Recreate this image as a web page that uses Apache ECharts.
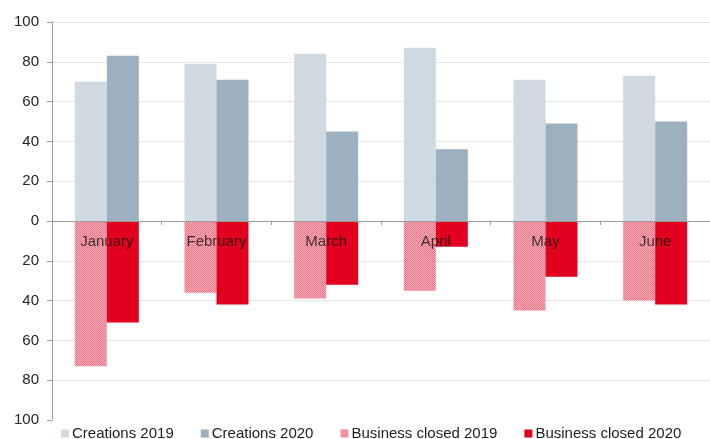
<!DOCTYPE html>
<html>
<head>
<meta charset="utf-8">
<script src="https://cdn.jsdelivr.net/npm/echarts@6/dist/echarts.min.js"></script>
<style>html,body{margin:0;padding:0;background:#fff}#c{width:710px;height:439px}</style>
</head>
<body>
<div id="c"></div>
<script>
const categories = ['January', 'February', 'March', 'April', 'May', 'June'];
const creations2019 = [70, 79, 84, 87, 71, 73];
const creations2020 = [83, 71, 45, 36, 49, 50];
const closed2019 = [73, 36, 39, 35, 45, 40];
const closed2020 = [51, 42, 32, 13, 28, 42];
const yTicks = [-100, -80, -60, -40, -20, 0, 20, 40, 60, 80, 100];

function checker(c1, c2) {
  const cv = document.createElement('canvas');
  cv.width = 2; cv.height = 2;
  const ctx = cv.getContext('2d');
  ctx.fillStyle = c1; ctx.fillRect(0, 0, 2, 2);
  ctx.fillStyle = c2; ctx.fillRect(0, 0, 1, 1); ctx.fillRect(1, 1, 1, 1);
  return { image: cv, repeat: 'repeat' };
}
const pat2019c = checker('#dbe3e9', '#c4d1db');
const pat2019b = checker('#f7b3bd', '#ee6f80');

const chart = echarts.init(document.getElementById('c'), null, { renderer: 'canvas' });
const font = 'Liberation Sans, Arial, Helvetica, sans-serif';
chart.setOption({
  animation: false,
  textStyle: { fontFamily: font },
  grid: { left: 52, right: 0, top: 22, bottom: 19, containLabel: false, outerBoundsMode: 'none' },
  legend: {
    top: 421, left: 56,
    itemWidth: 8, itemHeight: 8, itemGap: 27,
    icon: 'rect',
    textStyle: { fontSize: 15, color: '#222', fontFamily: font, padding: [0, 0, 0, -2] },
    data: ['Creations 2019', 'Creations 2020', 'Business closed 2019', 'Business closed 2020']
  },
  xAxis: {
    type: 'category',
    data: categories,
    z: 10,
    axisLine: { onZero: true, lineStyle: { color: '#9a9a9a', width: 1 } },
    axisTick: { show: true, length: 4, lineStyle: { color: '#9a9a9a' } },
    axisLabel: { show: false },
    splitLine: { show: false }
  },
  yAxis: {
    type: 'value',
    min: yTicks[0], max: yTicks[yTicks.length - 1], interval: 20,
    axisLine: { show: true, lineStyle: { color: '#9a9a9a' } },
    axisTick: { show: true, length: 5, lineStyle: { color: '#9a9a9a' } },
    axisLabel: { fontSize: 15, color: '#222', margin: 13, fontFamily: font, formatter: v => String(Math.abs(v)) },
    splitLine: { show: true, showMinLine: false, lineStyle: { color: '#e6e6e6', width: 1.2 } }
  },
  series: [
    { name: 'Creations 2019', type: 'bar', stack: 'y2019', data: creations2019, barWidth: 32, barGap: '0%', itemStyle: { color: pat2019c } },
    { name: 'Creations 2020', type: 'bar', stack: 'y2020', data: creations2020, barWidth: 32, barGap: '0%', itemStyle: { color: '#9cb0c0' } },
    { name: 'Business closed 2019', type: 'bar', stack: 'y2019', data: closed2019.map(v => -v), barWidth: 32, barGap: '0%', itemStyle: { color: pat2019b } },
    { name: 'Business closed 2020', type: 'bar', stack: 'y2020', data: closed2020.map(v => -v), barWidth: 32, barGap: '0%', itemStyle: { color: '#e3001f' } },
    {
      name: 'labels', type: 'scatter', z: 10, silent: true, symbolSize: 0,
      data: categories.map(c => [c, 0]),
      label: { show: true, position: 'bottom', distance: 13, fontSize: 15, color: '#111', fontFamily: font, formatter: p => p.value[0] },
      tooltip: { show: false }
    }
  ]
});
</script>
</body>
</html>
